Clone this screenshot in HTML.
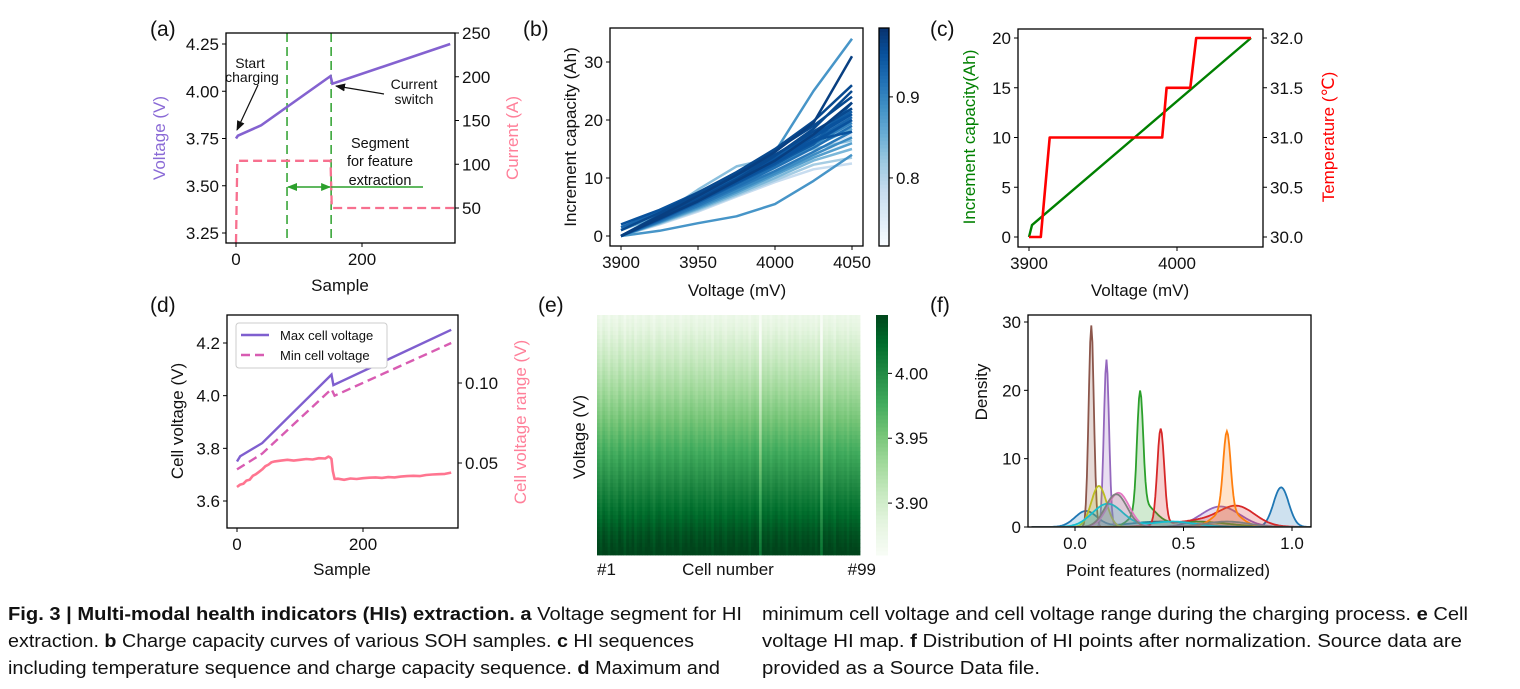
<!DOCTYPE html>
<html><head><meta charset="utf-8"><style>
html,body{margin:0;padding:0;background:#fff;}
svg{display:block;font-family:"Liberation Sans",sans-serif;}
</style></head><body>
<svg id="fig" width="1520" height="689" viewBox="0 0 1520 689" xmlns="http://www.w3.org/2000/svg">
<g font-size="18" fill="#111">
<text x="8" y="620" textLength="734" lengthAdjust="spacingAndGlyphs"><tspan font-weight="bold">Fig. 3 | Multi-modal health indicators (HIs) extraction. a</tspan> Voltage segment for HI</text>
<text x="8" y="647" textLength="686" lengthAdjust="spacingAndGlyphs">extraction. <tspan font-weight="bold">b</tspan> Charge capacity curves of various SOH samples. <tspan font-weight="bold">c</tspan> HI sequences</text>
<text x="8" y="674" textLength="712" lengthAdjust="spacingAndGlyphs">including temperature sequence and charge capacity sequence. <tspan font-weight="bold">d</tspan> Maximum and</text>
<text x="762" y="620" textLength="706" lengthAdjust="spacingAndGlyphs">minimum cell voltage and cell voltage range during the charging process. <tspan font-weight="bold">e</tspan> Cell</text>
<text x="762" y="647" textLength="700" lengthAdjust="spacingAndGlyphs">voltage HI map. <tspan font-weight="bold">f</tspan> Distribution of HI points after normalization. Source data are</text>
<text x="762" y="674" textLength="278" lengthAdjust="spacingAndGlyphs">provided as a Source Data file.</text>
</g>
</svg>
<script>
// ---------- DATA ----------
// (a)
const aVoltSamples = [0, 3, 40, 150, 153, 340];
const aVoltValues = [3.75, 3.765, 3.82, 4.08, 4.04, 4.25];
const aCurSamples = [0, 2, 150, 152, 348];
const aCurValues = [10, 104, 104, 50, 50];
const aSegmentBounds = [81, 151];
const aLeftTicks = [3.25, 3.5, 3.75, 4.0, 4.25];
const aRightTicks = [50, 100, 150, 200, 250];
const aXTicks = [0, 200];
// (b)
const bVoltages = [3900, 3925, 3950, 3975, 4000, 4025, 4050];
const bSoh = [0.96,0.95,0.97,0.94,0.92,0.96,0.95,0.94,0.91,0.89,0.87,0.84,0.81,0.78,0.93,0.96,0.97,0.96,0.95,0.90,0.93,0.86,0.94,0.95,0.88,0.88,0.83,0.76,0.74];
const bCaps = [
[0,3.5,7,10.5,14,18,22],[0,3.2,6.5,9.8,13.2,17,21],[0,3,6,9.5,13,17.5,23],[0,2.8,5.8,9,12.3,16,20],
[0,2.6,5.5,8.5,11.8,15.2,19],[1,4,7.5,11,14.8,19,24],[2,4.5,7.5,10.8,14,17.5,21],[0,3.3,6.8,10,13.5,17.2,21.5],
[0,2.5,5.2,8.2,11.2,14.5,18],[0,2.4,5,7.8,10.8,14,17],[0,2.3,4.8,7.5,10.5,13.5,16],[0,2.2,4.6,7.2,10,13,15],
[0,2.1,4.4,7,9.6,12.3,13.5],[0,2,4.2,6.8,9.3,11.5,12.5],[1.5,4.2,7.2,10.4,13.8,17.5,22],[0,3.1,6.3,9.8,13.8,18.5,25],
[0,3.4,6.9,10.5,14.5,19.5,31],[0,3.6,7.3,11,15,19.8,26],[0,2.9,6,9.2,12.6,16.2,20],[0,2.7,5.6,8.8,12,15.8,19.5],
[0,3,6.2,9.4,12.8,16.5,20.5],[1,3.5,6.5,9.5,12.5,15.5,18.5],[0,3,6.1,9.3,12.5,15.8,23],[0,3.3,6.6,9.8,13,16.5,18],
[0,3.5,7,10.5,14.5,25,34],[0,0.9,2.2,3.4,5.5,9.5,14],[0,3.5,8,12,13.5,15,16.5],[0,2.6,5.4,8.4,11.5,14.6,17.5],[0,2.5,5.1,7.9,10.9,13.8,16.2]];
const bYTicks = [0, 10, 20, 30];
const bXTicks = [3900, 3950, 4000, 4050];
const bCbarTicks = [0.8, 0.9];
// (c)
const cCapV = [3900, 3902, 4050];
const cCapQ = [0, 1.2, 20];
const cTempV = [3900, 3908, 3914, 3990, 3993, 4009, 4013, 4050];
const cTempT = [30, 30, 31, 31, 31.5, 31.5, 32, 32];
const cLeftTicks = [0, 5, 10, 15, 20];
const cRightTicks = [30.0, 30.5, 31.0, 31.5, 32.0];
const cXTicks = [3900, 4000];
// (d)
const dMaxS = [0, 5, 40, 150, 153, 340];
const dMaxV = [3.75, 3.77, 3.82, 4.08, 4.04, 4.25];
const dMinS = [0, 40, 150, 155, 340];
const dMinV = [3.72, 3.78, 4.025, 4.0, 4.2];
const dRangeS = [0,5,10,15,20,25,30,35,40,45,50,55,60,70,80,90,100,110,120,130,140,145,148,150,152,155,160,170,180,190,200,210,220,230,240,250,260,270,280,290,300,310,320,330,340];
const dRangeV = [0.035,0.0365,0.037,0.039,0.0395,0.042,0.043,0.0445,0.046,0.048,0.049,0.0505,0.051,0.0515,0.052,0.0515,0.052,0.0525,0.0522,0.053,0.0528,0.054,0.0535,0.0525,0.045,0.040,0.0402,0.0395,0.0403,0.040,0.0405,0.0408,0.041,0.0407,0.0412,0.041,0.0415,0.0418,0.042,0.0418,0.0425,0.0428,0.043,0.0432,0.044];
const dLeftTicks = [3.6, 3.8, 4.0, 4.2];
const dRightTicks = [0.05, 0.10];
const dXTicks = [0, 200];
// (e)
const eRowV = [3.872,3.875,3.878,3.881,3.884,3.887,3.890,3.893,3.896,3.899,3.902,3.905,3.908,3.911,3.914,3.917,3.920,3.923,3.926,3.929,3.932,3.935,3.938,3.941,3.944,3.947,3.950,3.953,3.956,3.959,
3.962,3.965,3.968,3.971,3.974,3.977,3.980,3.983,3.986,3.989,3.992,3.995,3.998,4.001,4.004,4.007,4.010,4.013,4.016,4.019,4.022,4.025,4.028,4.031,4.034,4.036,4.038,4.040,4.042,4.044];
const eCellOffset = [0.004,-0.003,0.006,0.002,-0.004,0.005,0.001,-0.002,0.007,0.003,-0.005,0.004,0.000,0.006,-0.003,0.002,0.005,-0.001,0.003,0.007,
0.001,-0.004,0.004,0.006,0.002,-0.002,0.005,0.003,0.000,0.006,0.004,-0.003,0.002,0.005,0.001,0.007,0.003,-0.001,0.004,0.002,
0.006,0.000,0.003,-0.004,0.005,0.002,0.006,0.001,-0.002,0.004,0.003,0.006,-0.001,0.002,0.005,0.001,0.004,-0.003,0.003,0.006,
0.002,-0.030,0.004,0.001,0.005,-0.002,0.003,0.006,0.000,0.004,0.002,-0.003,0.005,0.001,0.006,0.003,-0.001,0.004,0.002,0.005,
0.000,0.003,-0.002,0.006,-0.028,0.004,0.001,0.005,0.002,-0.003,0.006,0.003,0.001,0.004,-0.002,0.005,0.002,0.003,0.001];
const eCbarTicks = [3.90, 3.95, 4.00];
// (f)
const fColors = ['#1f77b4','#8c564b','#9467bd','#2ca02c','#d62728','#ff7f0e','#bcbd22','#e377c2','#17becf','#7f7f7f'];
const fCenters = [[0.95,0.05,0.4],[0.075],[0.145,0.67],[0.30,0.32,0.55],[0.395,0.75,0.6],[0.70,0.7],[0.11],[0.20],[0.15,0.45],[0.19,0.7]];
const fSds = [[0.035,0.05,0.15],[0.012],[0.012,0.09],[0.014,0.05,0.15],[0.016,0.08,0.15],[0.017,0.06],[0.035],[0.05],[0.07,0.1],[0.05,0.1]];
const fHeights = [[5.8,2.3,0.8],[29.5],[24.5,3.0],[17,3.0,0.8],[14,2.5,1.0],[11.5,2.5],[6],[5],[3.4,0.8],[4.8,0.8]];
const fYTicks = [0, 10, 20, 30];
const fXTicks = [0.0, 0.5, 1.0];

// ---------- HELPERS ----------
const NS = 'http://www.w3.org/2000/svg';
const svg = document.getElementById('fig');
function mk(tag, attrs, name, parent) {
  const e = document.createElementNS(NS, tag);
  for (const k in attrs) e.setAttribute(k, attrs[k]);
  
  
  (parent || svg).appendChild(e);
  return e;
}
function txt(x, y, s, attrs, name, parent) {
  const e = mk('text', Object.assign({x: x, y: y, 'font-size': 17, fill: '#111'}, attrs || {}), name, parent);
  e.textContent = s;
  return e;
}
function lin(d0, d1, r0, r1) { return v => r0 + (v - d0) * (r1 - r0) / (d1 - d0); }
function path(xs, ys, sx, sy) { return xs.map((v, i) => (i ? 'L' : 'M') + sx(v).toFixed(1) + ',' + sy(ys[i]).toFixed(1)).join(''); }
function frame(x0, y0, x1, y1, name, g) { mk('rect', {x: x0, y: y0, width: x1 - x0, height: y1 - y0, fill: 'none', stroke: '#000', 'stroke-width': 1.3}, name, g); }
function yTicks(vals, sy, x, side, fmt, name, g) {
  vals.forEach(v => {
    const y = sy(v);
    mk('line', {x1: x, x2: x + (side === 'left' ? -4 : 4), y1: y, y2: y, stroke: '#000', 'stroke-width': 1}, name + '-tick', g);
    txt(side === 'left' ? x - 7 : x + 7, y + 6, fmt(v), {'text-anchor': side === 'left' ? 'end' : 'start'}, name + '-label', g);
  });
}
function xTicks(vals, sx, y, fmt, name, g) {
  vals.forEach(v => {
    const x = sx(v);
    mk('line', {x1: x, x2: x, y1: y, y2: y + 4, stroke: '#000', 'stroke-width': 1}, name + '-tick', g);
    txt(x, y + 22, fmt(v), {'text-anchor': 'middle'}, name + '-label', g);
  });
}
function vlabel(x, y, s, color, name, g) {
  txt(x, y, s, {'text-anchor': 'middle', fill: color, transform: 'rotate(-90 ' + x + ' ' + y + ')'}, name, g);
}
function cmap(stops, t) {
  t = Math.max(0, Math.min(1, t));
  const p = t * (stops.length - 1), i = Math.min(stops.length - 2, Math.floor(p)), f = p - i;
  const a = stops[i], b = stops[i + 1];
  const c = [0, 1, 2].map(k => Math.round(parseInt(a.substr(1 + 2 * k, 2), 16) * (1 - f) + parseInt(b.substr(1 + 2 * k, 2), 16) * f));
  return 'rgb(' + c.join(',') + ')';
}
const BLUES = ['#f7fbff','#deebf7','#c6dbef','#9ecae1','#6baed6','#4292c6','#2171b5','#08519c','#08306b'];
const GREENS = ['#f7fcf5','#e5f5e0','#c7e9c0','#a1d99b','#74c476','#41ab5d','#238b45','#006d2c','#00441b'];
function plabel(x, y, s, name) { txt(x, y, s, {'font-size': 21}, name); }

// defs
const defs = mk('defs', {}, 'defs');
const mA = mk('marker', {id: 'arrBlack', markerWidth: 10, markerHeight: 10, refX: 9, refY: 5, orient: 'auto', markerUnits: 'userSpaceOnUse'}, 'arrowhead-black', defs);
mk('path', {d: 'M0,1 L10,5 L0,9 Z', fill: '#111'}, 'arrowhead-shape', mA);
const mG = mk('marker', {id: 'arrGreen', markerWidth: 10, markerHeight: 10, refX: 9, refY: 5, orient: 'auto-start-reverse', markerUnits: 'userSpaceOnUse'}, 'arrowhead-green', defs);
mk('path', {d: 'M0,1 L10,5 L0,9 Z', fill: '#2ca02c'}, 'arrowhead-shape', mG);

// ---------- PANEL A ----------
(function () {
  const g = mk('g', {}, 'panel-a');
  const sx = lin(0, 200, 236, 362), sy = lin(3.25, 4.25, 233, 44), sy2 = lin(50, 250, 208, 33);
  const cp = mk('clipPath', {id: 'clipA'}, 'clip-a', defs);
  mk('rect', {x: 226, y: 33, width: 229, height: 210}, 'clip-rect', cp);
  aSegmentBounds.forEach(s => mk('line', {x1: sx(s), x2: sx(s), y1: 33, y2: 243, stroke: '#2ca02c', 'stroke-width': 1.5, 'stroke-dasharray': '9,5'}, 'segment-boundary', g));
  mk('path', {d: path(aCurSamples, aCurValues, sx, sy2), fill: 'none', stroke: '#f7708f', 'stroke-width': 2.3, 'stroke-dasharray': '9,5', 'clip-path': 'url(#clipA)'}, 'current-line', g);
  mk('path', {d: path(aVoltSamples, aVoltValues, sx, sy), fill: 'none', stroke: '#8462d0', 'stroke-width': 2.6}, 'voltage-line', g);
  mk('line', {x1: sx(aSegmentBounds[0]) + 1, x2: sx(aSegmentBounds[1]) - 1, y1: 187, y2: 187, stroke: '#2ca02c', 'stroke-width': 1.5, 'marker-end': 'url(#arrGreen)', 'marker-start': 'url(#arrGreen)'}, 'segment-arrow', g);
  mk('line', {x1: sx(aSegmentBounds[1]), x2: 423, y1: 187, y2: 187, stroke: '#2ca02c', 'stroke-width': 1.5}, 'segment-arrow-tail', g);
  frame(226, 33, 455, 243, 'panel-a-frame', g);
  yTicks(aLeftTicks, sy, 226, 'left', v => v.toFixed(2), 'a-voltage-tick', g);
  yTicks(aRightTicks, sy2, 455, 'right', v => String(v), 'a-current-tick', g);
  xTicks(aXTicks, sx, 243, v => String(v), 'a-x-tick', g);
  vlabel(165, 138, 'Voltage (V)', '#8a6ad6', 'a-y-left-title', g);
  vlabel(518, 138, 'Current (A)', '#ff7f99', 'a-y-right-title', g);
  txt(340, 291, 'Sample', {'text-anchor': 'middle'}, 'a-x-title', g);
  txt(250, 68, 'Start', {'text-anchor': 'middle', 'font-size': 14}, 'annotation-start', g);
  txt(252, 82, 'charging', {'text-anchor': 'middle', 'font-size': 14}, 'annotation-charging', g);
  mk('line', {x1: 258, y1: 85, x2: 237, y2: 130, stroke: '#111', 'stroke-width': 1.2, 'marker-end': 'url(#arrBlack)'}, 'annotation-arrow-start', g);
  txt(414, 89, 'Current', {'text-anchor': 'middle', 'font-size': 14}, 'annotation-current', g);
  txt(414, 104, 'switch', {'text-anchor': 'middle', 'font-size': 14}, 'annotation-switch', g);
  mk('line', {x1: 384, y1: 94, x2: 336, y2: 86, stroke: '#111', 'stroke-width': 1.2, 'marker-end': 'url(#arrBlack)'}, 'annotation-arrow-switch', g);
  txt(380, 148, 'Segment', {'text-anchor': 'middle', 'font-size': 14.5}, 'annotation-segment', g);
  txt(380, 166, 'for feature', {'text-anchor': 'middle', 'font-size': 14.5}, 'annotation-for-feature', g);
  txt(380, 185, 'extraction', {'text-anchor': 'middle', 'font-size': 14.5}, 'annotation-extraction', g);
})();
plabel(150, 36, '(a)', 'panel-label-a');

// ---------- PANEL B ----------
(function () {
  const g = mk('g', {}, 'panel-b');
  const sx = lin(3900, 4050, 621, 852), sy = lin(0, 30, 236, 62);
  const cmin = 0.716, cmax = 0.985;
  const order = bSoh.map((s, i) => i).sort((a, b) => bSoh[a] - bSoh[b]);
  order.forEach(i => {
    mk('path', {d: path(bVoltages, bCaps[i], sx, sy), fill: 'none', stroke: cmap(BLUES, (bSoh[i] - cmin) / (cmax - cmin)), 'stroke-width': 2.5, 'stroke-linejoin': 'round'}, 'capacity-curve-soh-' + bSoh[i], g);
  });
  frame(610, 28, 863, 246, 'panel-b-frame', g);
  yTicks(bYTicks, sy, 610, 'left', v => String(v), 'b-y-tick', g);
  xTicks(bXTicks, sx, 246, v => String(v), 'b-x-tick', g);
  vlabel(576, 137, 'Increment capacity (Ah)', '#111', 'b-y-title', g);
  txt(737, 296, 'Voltage (mV)', {'text-anchor': 'middle'}, 'b-x-title', g);
  const cs = lin(cmin, cmax, 246, 28);
  for (let k = 0; k < 60; k++) {
    const v0 = cmin + (cmax - cmin) * k / 60, v1 = cmin + (cmax - cmin) * (k + 1) / 60;
    mk('rect', {x: 879, y: cs(v1), width: 10, height: cs(v0) - cs(v1) + 0.5, fill: cmap(BLUES, (v0 - cmin) / (cmax - cmin))}, 'b-colorbar-segment', g);
  }
  frame(879, 28, 889, 246, 'b-colorbar-frame', g);
  yTicks(bCbarTicks, cs, 889, 'right', v => v.toFixed(1), 'b-colorbar-tick', g);
})();
plabel(523, 36, '(b)', 'panel-label-b');

// ---------- PANEL C ----------
(function () {
  const g = mk('g', {}, 'panel-c');
  const sx = lin(3900, 4000, 1029, 1177), sy = lin(0, 20, 237, 38), sy2 = lin(30, 32, 237, 38);
  mk('path', {d: path(cCapV, cCapQ, sx, sy), fill: 'none', stroke: '#008000', 'stroke-width': 2.4}, 'capacity-sequence-line', g);
  mk('path', {d: path(cTempV, cTempT, sx, sy2), fill: 'none', stroke: '#ff0000', 'stroke-width': 2.6, 'stroke-linejoin': 'round'}, 'temperature-sequence-line', g);
  frame(1018, 29, 1263, 247, 'panel-c-frame', g);
  yTicks(cLeftTicks, sy, 1018, 'left', v => String(v), 'c-y-left-tick', g);
  yTicks(cRightTicks, sy2, 1263, 'right', v => v.toFixed(1), 'c-y-right-tick', g);
  xTicks(cXTicks, sx, 247, v => String(v), 'c-x-tick', g);
  vlabel(975, 137, 'Increment capacity(Ah)', '#008000', 'c-y-left-title', g);
  vlabel(1334, 137, 'Temperature (℃)', '#ff0000', 'c-y-right-title', g);
  txt(1140, 296, 'Voltage (mV)', {'text-anchor': 'middle'}, 'c-x-title', g);
})();
plabel(930, 36, '(c)', 'panel-label-c');

// ---------- PANEL D ----------
(function () {
  const g = mk('g', {}, 'panel-d');
  const sx = lin(0, 200, 237, 363), sy = lin(3.6, 4.2, 501, 343), sy2 = lin(0.05, 0.10, 463, 383);
  mk('path', {d: path(dRangeS, dRangeV, sx, sy2), fill: 'none', stroke: '#ff7590', 'stroke-width': 2.6, 'stroke-linejoin': 'round'}, 'voltage-range-line', g);
  mk('path', {d: path(dMinS, dMinV, sx, sy), fill: 'none', stroke: '#d85cb2', 'stroke-width': 2.4, 'stroke-dasharray': '9,5'}, 'min-cell-voltage-line', g);
  mk('path', {d: path(dMaxS, dMaxV, sx, sy), fill: 'none', stroke: '#7f5fcf', 'stroke-width': 2.4}, 'max-cell-voltage-line', g);
  frame(227, 315, 458, 528, 'panel-d-frame', g);
  yTicks(dLeftTicks, sy, 227, 'left', v => v.toFixed(1), 'd-y-left-tick', g);
  yTicks(dRightTicks, sy2, 458, 'right', v => v.toFixed(2), 'd-y-right-tick', g);
  xTicks(dXTicks, sx, 528, v => String(v), 'd-x-tick', g);
  vlabel(183, 421, 'Cell voltage (V)', '#111', 'd-y-left-title', g);
  vlabel(526, 422, 'Cell voltage range (V)', '#ff7f99', 'd-y-right-title', g);
  txt(342, 575, 'Sample', {'text-anchor': 'middle'}, 'd-x-title', g);
  const lg = mk('g', {}, 'd-legend', g);
  mk('rect', {x: 236, y: 323, width: 151, height: 45, rx: 3, fill: '#fff', stroke: '#ccc'}, 'legend-box', lg);
  mk('line', {x1: 241, x2: 269, y1: 335, y2: 335, stroke: '#7f5fcf', 'stroke-width': 2.4}, 'legend-swatch-max', lg);
  txt(280, 340, 'Max cell voltage', {'font-size': 13}, 'legend-entry-max', lg);
  mk('line', {x1: 241, x2: 269, y1: 355, y2: 355, stroke: '#d85cb2', 'stroke-width': 2.4, 'stroke-dasharray': '9,5'}, 'legend-swatch-min', lg);
  txt(280, 360, 'Min cell voltage', {'font-size': 13}, 'legend-entry-min', lg);
})();
plabel(150, 312, '(d)', 'panel-label-d');

// ---------- PANEL E ----------
(function () {
  const g = mk('g', {}, 'panel-e');
  const x0 = 597, x1 = 860, y0 = 315, y1 = 555;
  const cmin = 3.86, cmax = 4.045;
  const cw = (x1 - x0) / eCellOffset.length, rh = (y1 - y0) / eRowV.length;
  eRowV.forEach((rv, r) => {
    eCellOffset.forEach((off, c) => {
      mk('rect', {x: (x0 + c * cw).toFixed(2), y: (y0 + r * rh).toFixed(2), width: (cw + 0.4).toFixed(2), height: (rh + 0.4).toFixed(2), fill: cmap(GREENS, (rv + off - cmin) / (cmax - cmin))}, 'heatmap-cell', g);
    });
  });
  const cs = lin(cmin, cmax, 555, 315);
  for (let k = 0; k < 60; k++) {
    const v0 = cmin + (cmax - cmin) * k / 60, v1 = cmin + (cmax - cmin) * (k + 1) / 60;
    mk('rect', {x: 876, y: cs(v1), width: 12, height: cs(v0) - cs(v1) + 0.5, fill: cmap(GREENS, (v0 - cmin) / (cmax - cmin))}, 'e-colorbar-segment', g);
  }
  yTicks(eCbarTicks, cs, 888, 'right', v => v.toFixed(2), 'e-colorbar-tick', g);
  vlabel(585, 437, 'Voltage (V)', '#111', 'e-y-title', g);
  txt(597, 575, '#1', {}, 'e-x-first-label', g);
  txt(728, 575, 'Cell number', {'text-anchor': 'middle'}, 'e-x-title', g);
  txt(876, 575, '#99', {'text-anchor': 'end'}, 'e-x-last-label', g);
})();
plabel(538, 312, '(e)', 'panel-label-e');

// ---------- PANEL F ----------
(function () {
  const g = mk('g', {}, 'panel-f');
  const sx = lin(0, 1, 1075, 1292), sy = lin(0, 30, 527, 322);
  const cp = mk('clipPath', {id: 'clipF'}, 'clip-f', defs);
  mk('rect', {x: 1028, y: 315, width: 283, height: 212}, 'clip-rect', cp);
  const N = 260, xmin = -0.2, xmax = 1.1;
  fCenters.forEach((cs, s) => {
    const xs = [], ys = [];
    for (let i = 0; i <= N; i++) {
      const x = xmin + (xmax - xmin) * i / N;
      let d = 0;
      cs.forEach((c, j) => { d += fHeights[s][j] * Math.exp(-0.5 * Math.pow((x - c) / fSds[s][j], 2)); });
      xs.push(x); ys.push(d);
    }
    const line = path(xs, ys, sx, sy);
    mk('path', {d: line + 'L' + sx(xmax) + ',' + sy(0) + 'L' + sx(xmin) + ',' + sy(0) + 'Z', fill: fColors[s], 'fill-opacity': 0.22, stroke: 'none', 'clip-path': 'url(#clipF)'}, 'kde-fill-' + s, g);
    mk('path', {d: line, fill: 'none', stroke: fColors[s], 'stroke-width': 1.8, 'clip-path': 'url(#clipF)'}, 'kde-line-' + s, g);
  });
  frame(1028, 315, 1311, 527, 'panel-f-frame', g);
  yTicks(fYTicks, sy, 1028, 'left', v => String(v), 'f-y-tick', g);
  xTicks(fXTicks, sx, 527, v => v.toFixed(1), 'f-x-tick', g);
  vlabel(987, 392, 'Density', '#111', 'f-y-title', g);
  txt(1168, 576, 'Point features (normalized)', {'text-anchor': 'middle'}, 'f-x-title', g);
})();
plabel(930, 312, '(f)', 'panel-label-f');
</script>
</body></html>
